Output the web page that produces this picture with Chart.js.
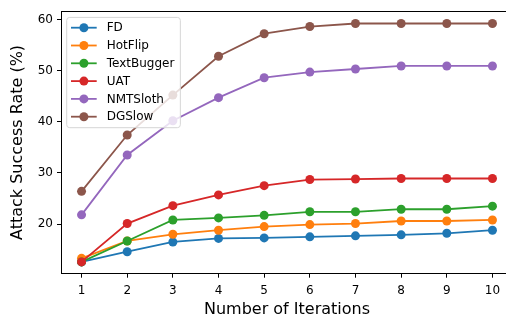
<!DOCTYPE html>
<html>
<head>
  <meta charset="UTF-8">
  <title>Attack Success Rate vs Iterations</title>
  <script src="https://cdn.jsdelivr.net/npm/chart.js"></script>
  <style>
    body { margin: 0; background: #fff; overflow: hidden; }
    #wrap { width: 506px; height: 315px; overflow: hidden; }
  </style>
</head>
<body>
  <div id="wrap"><canvas id="chart" width="520" height="315"></canvas></div>

  <script>
    const iterations = [1, 2, 3, 4, 5, 6, 7, 8, 9, 10];
    const yTicks = [20, 30, 40, 50, 60];

    const fd         = [12.6, 14.6, 16.5, 17.2, 17.3, 17.5, 17.7, 17.9, 18.2, 18.8];
    const hotFlip    = [13.3, 16.7, 18.0, 18.8, 19.5, 19.9, 20.1, 20.6, 20.6, 20.8];
    const textBugger = [12.6, 16.7, 20.8, 21.2, 21.7, 22.4, 22.4, 22.9, 22.9, 23.5];
    const uat        = [12.6, 20.1, 23.6, 25.7, 27.5, 28.7, 28.8, 28.9, 28.9, 28.9];
    const nmtSloth   = [21.8, 33.5, 40.2, 44.7, 48.6, 49.7, 50.3, 50.9, 50.9, 50.9];
    const dgSlow     = [26.4, 37.4, 45.2, 52.8, 57.2, 58.6, 59.2, 59.2, 59.2, 59.2];

    const seriesNames = ["FD", "HotFlip", "TextBugger", "UAT", "NMTSloth", "DGSlow"];
    const seriesData = [fd, hotFlip, textBugger, uat, nmtSloth, dgSlow];
    const colors = ["#1f77b4", "#ff7f0e", "#2ca02c", "#d62728", "#9467bd", "#8c564b"];

    const font = "'DejaVu Sans', sans-serif";

    const datasets = seriesNames.map((name, i) => ({
      label: name,
      data: iterations.map((x, j) => ({ x: x, y: seriesData[i][j] })),
      borderColor: colors[i],
      backgroundColor: colors[i],
      borderWidth: 1.8,
      pointRadius: 4.5,
      pointBorderWidth: 0,
      pointHoverRadius: 4.5,
      tension: 0,
      order: seriesNames.length - i
    }));

    // frame on top/right + legend box inside the plot
    const extras = {
      id: 'extras',
      afterDraw(chart) {
        const ctx = chart.ctx;
        const a = chart.chartArea;
        ctx.save();
        ctx.fillStyle = "#000";
        ctx.fillRect(a.left, Math.round(a.top), a.right - a.left, 1);
        ctx.fillRect(Math.round(a.right), a.top, 1, a.bottom - a.top);

        // legend
        ctx.font = "12px " + font;
        let maxW = 0;
        seriesNames.forEach(n => { maxW = Math.max(maxW, ctx.measureText(n).width); });
        const bx = a.left + 5.7, by = a.top + 6.2;
        const bw = 40 + maxW + 6, bh = 110.3;
        ctx.beginPath();
        ctx.roundRect(bx, by, bw, bh, 3);
        ctx.fillStyle = "rgba(255,255,255,0.8)";
        ctx.fill();
        ctx.strokeStyle = "#d6d6d6";
        ctx.lineWidth = 1;
        ctx.stroke();
        ctx.textBaseline = "middle";
        seriesNames.forEach((n, i) => {
          const cy = by + 10.3 + i * 17.8;
          ctx.strokeStyle = colors[i];
          ctx.lineWidth = 1.8;
          ctx.beginPath();
          ctx.moveTo(bx + 4.3, cy);
          ctx.lineTo(bx + 30, cy);
          ctx.stroke();
          ctx.fillStyle = colors[i];
          ctx.beginPath();
          ctx.arc(bx + 17.2, cy, 4.5, 0, Math.PI * 2);
          ctx.fill();
          ctx.fillStyle = "#000";
          ctx.fillText(n, bx + 40, cy + 0.5);
        });
        ctx.restore();
      }
    };

    new Chart(document.getElementById("chart"), {
      type: 'line',
      data: { datasets: datasets },
      options: {
        responsive: false,
        animation: false,
        layout: { padding: { left: 0, right: 7, top: 11, bottom: 0 } },
        plugins: { legend: { display: false }, tooltip: { enabled: false } },
        scales: {
          x: {
            type: 'linear',
            min: 0.55,
            max: 10.45,
            afterBuildTicks: s => { s.ticks = iterations.map(v => ({ value: v })); },
            afterFit: s => { s.height = 41.3; },
            grid: { drawOnChartArea: false, drawTicks: true, tickLength: 4, color: "#000" },
            border: { display: true, color: "#000", width: 1 },
            ticks: { color: "#000", font: { family: font, size: 12 }, padding: 6, maxRotation: 0 },
            title: { display: true, text: "Number of Iterations", color: "#000",
                     font: { family: font, size: 16 }, padding: { top: 0, bottom: -4 } }
          },
          y: {
            min: 10.3,
            max: 61.6,
            afterBuildTicks: s => { s.ticks = yTicks.map(v => ({ value: v })); },
            afterFit: s => { s.width = 61; },
            grid: { drawOnChartArea: false, drawTicks: true, tickLength: 4, color: "#000" },
            border: { display: true, color: "#000", width: 1 },
            ticks: { color: "#000", font: { family: font, size: 12 }, padding: 4 },
            title: { display: true, text: "Attack Success Rate (%)", color: "#000",
                     font: { family: font, size: 16 }, padding: { top: 8, bottom: 0 } }
          }
        }
      },
      plugins: [extras]
    });
  </script>
</body>
</html>
